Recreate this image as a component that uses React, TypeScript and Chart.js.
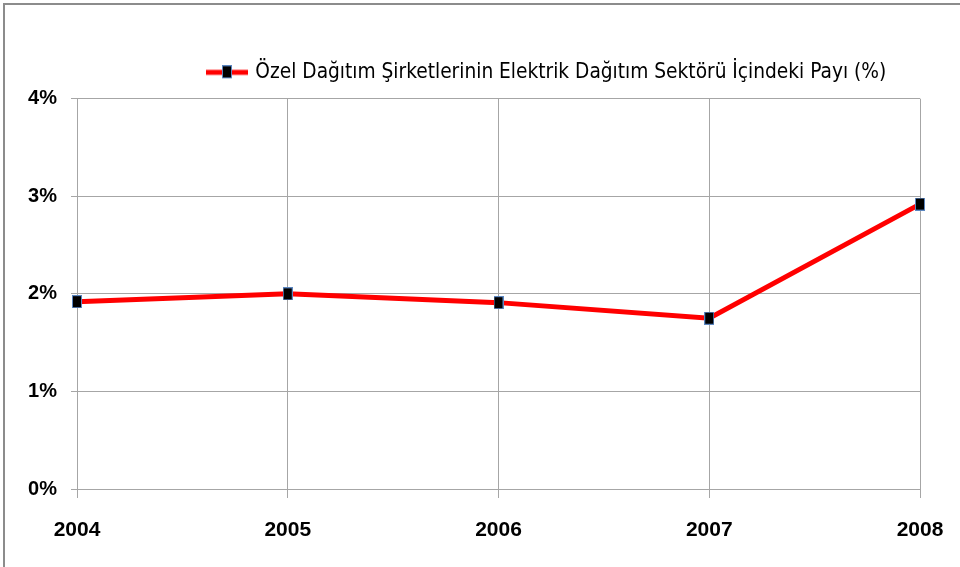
import React, { useEffect, useRef } from "react";
import { Chart, registerables } from "chart.js";

Chart.register(...registerables);

const years = ["2004", "2005", "2006", "2007", "2008"];
const shares = [1.92, 2.0, 1.91, 1.75, 2.92];
const yTickLabels = ["0%", "1%", "2%", "3%", "4%"];
const seriesLabel = "Özel Dağıtım Şirketlerinin Elektrik Dağıtım Sektörü İçindeki Payı (%)";

const LEGEND_FONT = "'Liberation Sans Narrow', 'DejaVu Sans Condensed', 'Liberation Sans', sans-serif";
const AXIS_FONT = "'Liberation Sans', Arial, sans-serif";

function makeMarker(): HTMLCanvasElement {
  const c = document.createElement("canvas");
  c.width = 10;
  c.height = 13;
  const ctx = c.getContext("2d")!;
  ctx.fillStyle = "#000000";
  ctx.fillRect(0, 0, 10, 13);
  ctx.strokeStyle = "#5b86c0";
  ctx.lineWidth = 1;
  ctx.strokeRect(0.5, 0.5, 9, 12);
  return c;
}

function makeLegendSymbol(marker: HTMLCanvasElement): HTMLCanvasElement {
  const c = document.createElement("canvas");
  c.width = 42;
  c.height = 14;
  const ctx = c.getContext("2d")!;
  ctx.strokeStyle = "#ff0000";
  ctx.lineWidth = 5;
  ctx.beginPath();
  ctx.moveTo(0, 7);
  ctx.lineTo(42, 7);
  ctx.stroke();
  ctx.drawImage(marker, 16, 0);
  return c;
}

const framePlugin = {
  id: "frame",
  beforeDraw(chart: any) {
    const ctx = chart.ctx;
    ctx.save();
    ctx.fillStyle = "#8c8c8c";
    ctx.fillRect(3, 3, chart.width - 3, 2);
    ctx.fillRect(3, 3, 2, chart.height - 3);
    ctx.restore();
  },
};

const legendShift = {
  id: "legendShift",
  afterLayout(chart: any) {
    const lg = chart.legend;
    if (!lg) return;
    const h = lg.bottom - lg.top;
    lg.left = 199;
    lg.right = chart.width;
    lg.top = 52;
    lg.bottom = 52 + h;
  },
};

export default function App() {
  const ref = useRef<HTMLCanvasElement | null>(null);

  useEffect(() => {
    if (!ref.current) return;
    const marker = makeMarker();
    const legendImg = makeLegendSymbol(marker);
    const gridColor = "#a6a6a6";

    const chart = new Chart(ref.current, {
      type: "line",
      data: {
        labels: years,
        datasets: [
          {
            label: seriesLabel,
            data: shares,
            borderColor: "#ff0000",
            backgroundColor: "#ff0000",
            borderWidth: 5,
            pointStyle: marker as any,
            pointRadius: 6,
            tension: 0,
            fill: false,
            clip: false as any,
          },
        ],
      },
      options: {
        animation: false,
        responsive: true,
        maintainAspectRatio: false,
        layout: { padding: { left: 0, right: 40, top: 58, bottom: 0 } },
        plugins: {
          tooltip: { enabled: false },
          legend: {
            position: "top",
            align: "start",
            labels: {
              usePointStyle: true,
              pointStyleWidth: 36,
              padding: 10,
              color: "#000000",
              font: { family: LEGEND_FONT, size: 20.7 },
              generateLabels: () => [
                {
                  text: seriesLabel,
                  pointStyle: legendImg as any,
                  fillStyle: "#ff0000",
                  strokeStyle: "#ff0000",
                  lineWidth: 0,
                  hidden: false,
                  datasetIndex: 0,
                },
              ],
            },
          },
        },
        scales: {
          x: {
            offset: false,
            grid: { color: gridColor, tickLength: 9, drawTicks: true },
            border: { color: gridColor },
            ticks: {
              color: "#000000",
              font: { family: AXIS_FONT, size: 21, weight: "bold" },
              padding: 20,
              maxRotation: 0,
              autoSkip: false,
            },
            afterFit: (s: any) => {
              s.height = 78;
              s.paddingLeft = 0;
              s.paddingRight = 0;
            },
          },
          y: {
            min: 0,
            max: 4,
            grid: { color: gridColor, tickLength: 6 },
            border: { color: gridColor },
            ticks: {
              stepSize: 1,
              color: "#000000",
              font: { family: AXIS_FONT, size: 20, weight: "bold" },
              padding: 14,
              callback: (_v: any, i: number) => yTickLabels[i],
            },
            afterFit: (s: any) => {
              s.width = 77;
              s.paddingTop = 0;
              s.paddingBottom = 0;
            },
          },
        },
      },
      plugins: [framePlugin, legendShift],
    });

    return () => chart.destroy();
  }, []);

  return (
    <div style={{ position: "absolute", left: 0, top: 0, width: 960, height: 567, background: "#ffffff" }}>
      <canvas ref={ref} />
    </div>
  );
}
